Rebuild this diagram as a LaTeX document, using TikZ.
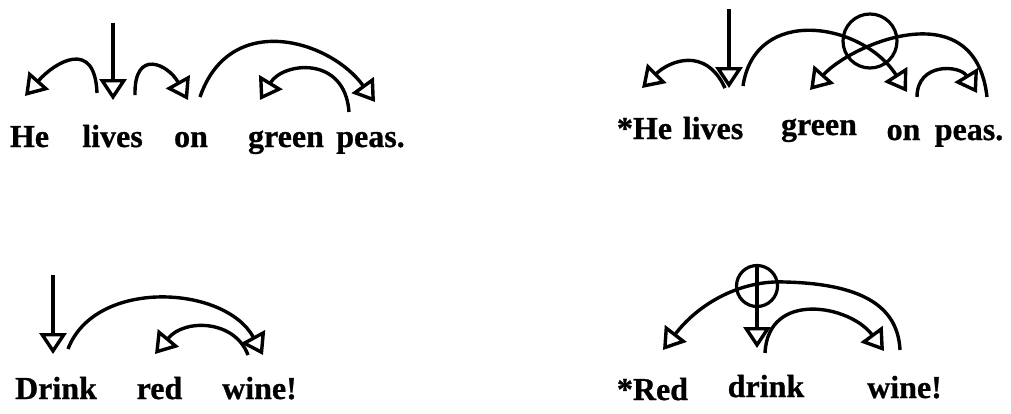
\documentclass[tikz,border=0pt]{standalone}
\usepackage{fontspec}
\setmainfont{Liberation Serif}[BoldFeatures={FakeBold=0.8}]
\usetikzlibrary{arrows.meta}
\begin{document}
\begin{tikzpicture}[x=1pt,y=-1pt,
  word/.style={anchor=base,inner sep=0pt,font=\fontsize{32}{38}\selectfont\bfseries},
  dep/.style={line width=3.4pt,-{Triangle[open,length=21pt,width=27pt]}},
  ring/.style={line width=3.2pt}]
\useasboundingbox (0,0) rectangle (1011,413);

% ---------- Panel 1: He lives on green peas.
\node[word] (p1he) at (29.5,147) {He};
\node[word] (p1lives) at (112.5,147) {lives};
\node[word] (p1on) at (191,147) {on};
\node[word] (p1green) at (286,147) {green};
\node[word] (p1peas) at (370.5,147) {peas.};
\coordinate (p1top) at (113,23);
\coordinate (p1livesT) at (113,100);
\coordinate (p1livesL) at (97,93);
\coordinate (p1heT) at (25,96);
\coordinate (p1livesR) at (135,95);
\coordinate (p1onT) at (188,100);
\coordinate (p1onS) at (200,97);
\coordinate (p1peasT) at (375,102);
\coordinate (p1peasS) at (349,112);
\coordinate (p1greenT) at (260,100);
\draw[dep] (p1top) -- (p1livesT);
\draw[dep] (p1livesL) .. controls (95,38) and (55,62) .. (p1heT);
\draw[dep] (p1livesR) .. controls (134,48) and (168,64) .. (p1onT);
\draw[dep] (p1onS) .. controls (230,10) and (330,40) .. (p1peasT);
\draw[dep] (p1peasS) .. controls (345,55) and (283,62) .. (p1greenT);

% ---------- Panel 2: *He lives green on peas.
\node[word] (p2he) at (644.5,139) {*He};
\node[word] (p2lives) at (713,139) {lives};
\node[word] (p2green) at (819,135) {green};
\node[word] (p2on) at (903.5,140) {on};
\node[word] (p2peas) at (969,140) {peas.};
\coordinate (p2top) at (729,9);
\coordinate (p2livesT) at (729,88);
\coordinate (p2livesL) at (725,88);
\coordinate (p2heT) at (642,88);
\coordinate (p2livesR) at (743,86);
\coordinate (p2onT) at (907,92);
\coordinate (p2peasS) at (987,97);
\coordinate (p2greenT) at (810,90);
\coordinate (p2onS) at (917,97);
\coordinate (p2peasT) at (977,93);
\draw[dep] (p2top) -- (p2livesT);
\draw[dep] (p2livesL) .. controls (705,45) and (668,62) .. (p2heT);
\draw[dep] (p2livesR) .. controls (755,5) and (862,22) .. (p2onT);
\draw[dep] (p2peasS) .. controls (975,-10) and (850,45) .. (p2greenT);
\draw[dep] (p2onS) .. controls (917,62) and (960,65) .. (p2peasT);
\node[ring,circle,draw,minimum size=54pt,inner sep=0pt] (p2cross) at (870,41) {};

% ---------- Panel 3: Drink red wine!
\node[word] (p3drink) at (56,399) {Drink};
\node[word] (p3red) at (159.5,399) {red};
\node[word] (p3wine) at (259.5,399) {wine!};
\coordinate (p3top) at (53,275);
\coordinate (p3drinkT) at (53,354);
\coordinate (p3drinkS) at (68,349);
\coordinate (p3wineT) at (263,355);
\coordinate (p3wineS) at (248,355);
\coordinate (p3redT) at (155,354);
\draw[dep] (p3top) -- (p3drinkT);
\draw[dep] (p3drinkS) .. controls (95,278) and (225,285) .. (p3wineT);
\draw[dep] (p3wineS) .. controls (235,320) and (185,318) .. (p3redT);

% ---------- Panel 4: *Red drink wine!
\node[word] (p4red) at (652.5,400) {*Red};
\node[word] (p4drink) at (766,397) {drink};
\node[word] (p4wine) at (904.5,398) {wine!};
\node[ring,circle,draw,minimum size=41pt,inner sep=0pt] (p4cross) at (757,286) {};
\coordinate (p4drinkT) at (757,348);
\coordinate (p4wineS) at (900,350);
\coordinate (p4arcTop) at (785,282);
\coordinate (p4redT) at (663,350);
\coordinate (p4drinkS) at (765,353);
\coordinate (p4wineT) at (884,351);
\draw[dep] (p4cross.north) -- (p4drinkT);
\draw[dep] (p4wineS) .. controls (898,310) and (868,284) .. (p4arcTop)
  .. controls (742,280) and (700,302) .. (p4redT);
\draw[dep] (p4drinkS) .. controls (768,290) and (850,305) .. (p4wineT);
\end{tikzpicture}
\end{document}
